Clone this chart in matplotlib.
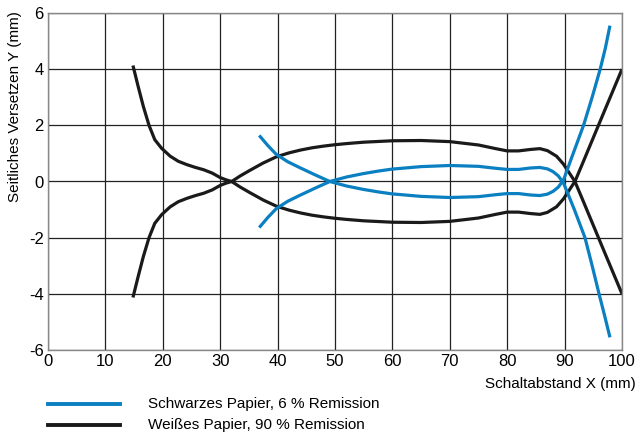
import matplotlib
matplotlib.use("Agg")
import matplotlib.pyplot as plt

plt.rcParams['font.family'] = ['Liberation Sans', 'DejaVu Sans']

# Weißes Papier, 90 % Remission (black) – two symmetric curves
black1_x = [14.8, 15.7, 16.6, 17.6, 18.6, 19.8, 21.3, 22.7, 24.2, 25.7, 27.1, 28.6, 30, 31, 32, 33.5, 35.2, 37.5, 39.8,
            42, 44, 46, 48, 50, 52, 55, 60, 65, 70, 75, 78, 80, 82, 84, 85.7, 87, 88.6, 89.8, 90.8, 91.8,
            93, 95, 97, 98.5, 100]
black1_y = [4.13, 3.39, 2.68, 2.0, 1.49, 1.18, 0.9, 0.72, 0.6, 0.5, 0.42, 0.3, 0.14, 0.06, 0.0, -0.2, -0.4, -0.66, -0.88,
            -1.02, -1.12, -1.2, -1.26, -1.31, -1.35, -1.4, -1.45, -1.46, -1.42, -1.3, -1.17, -1.09, -1.09, -1.14, -1.17, -1.1, -0.9, -0.62, -0.31, 0.0,
            0.58, 1.56, 2.54, 3.27, 4.0]
black2_x = [14.8, 15.7, 16.6, 17.6, 18.6, 19.8, 21.3, 22.7, 24.2, 25.7, 27.1, 28.6, 30, 31, 32, 33.5, 35.2, 37.5, 39.8,
            42, 44, 46, 48, 50, 52, 55, 60, 65, 70, 75, 78, 80, 82, 84, 85.7, 87, 88.6, 89.8, 90.8, 91.8,
            93, 95, 97, 98.5, 100]
black2_y = [-4.13, -3.39, -2.68, -2.0, -1.49, -1.18, -0.9, -0.72, -0.6, -0.5, -0.42, -0.3, -0.14, -0.06, 0.0, 0.2, 0.4, 0.66, 0.88,
            1.02, 1.12, 1.2, 1.26, 1.31, 1.35, 1.4, 1.45, 1.46, 1.42, 1.3, 1.17, 1.09, 1.09, 1.14, 1.17, 1.1, 0.9, 0.62, 0.31, 0.0,
            -0.58, -1.56, -2.54, -3.27, -4.0]

# Schwarzes Papier, 6 % Remission (blue) – two symmetric curves
blue1_x = [36.8, 38.3, 39.8, 41.8, 43.9, 46.5, 49.1, 52, 54.9, 57.5, 59.9, 65, 70, 75, 78, 80, 82, 84, 85.7, 87, 88, 88.9, 89.8,
           91.5, 93.3, 94.8, 96.2, 97.1, 97.9]
blue1_y = [1.64, 1.28, 0.96, 0.7, 0.49, 0.24, 0.0, -0.16, -0.28, -0.37, -0.44, -0.53, -0.57, -0.54, -0.47, -0.43, -0.43, -0.48, -0.5, -0.45, -0.35, -0.2, 0.05,
           1.0, 2.0, 3.0, 4.0, 4.75, 5.55]
blue2_x = [36.8, 38.3, 39.8, 41.8, 43.9, 46.5, 49.1, 52, 54.9, 57.5, 59.9, 65, 70, 75, 78, 80, 82, 84, 85.7, 87, 88, 88.9, 89.8,
           91.7, 93.55, 94.8, 96.0, 97.0, 97.9]
blue2_y = [-1.64, -1.28, -0.96, -0.7, -0.49, -0.24, 0.0, 0.16, 0.28, 0.37, 0.44, 0.53, 0.57, 0.54, 0.47, 0.43, 0.43, 0.48, 0.5, 0.45, 0.35, 0.2, -0.05,
           -1.0, -2.0, -3.0, -4.0, -4.8, -5.55]

x_ticks = [0, 10, 20, 30, 40, 50, 60, 70, 80, 90, 100]
y_ticks = [-6, -4, -2, 0, 2, 4, 6]

BLUE = '#0a7fc1'
BLACK = '#1a1a1a'

fig = plt.figure(figsize=(6.41, 4.36), dpi=100)
ax = fig.add_axes([48/641, 86/436, 574/641, 337/436])

for xs, ys in [(blue1_x, blue1_y), (blue2_x, blue2_y)]:
    ax.plot(xs, ys, color=BLUE, lw=2.3, solid_capstyle='butt', solid_joinstyle='round', zorder=3)
for xs, ys in [(black1_x, black1_y), (black2_x, black2_y)]:
    ax.plot(xs, ys, color=BLACK, lw=2.3, solid_capstyle='butt', solid_joinstyle='round', zorder=2)

ax.set_xlim(0, 100)
ax.set_ylim(-6, 6)
ax.set_xticks(x_ticks)
ax.set_yticks(y_ticks)
ax.set_xticklabels([str(v) for v in x_ticks], fontsize=12)
ax.set_yticklabels([str(v) for v in y_ticks], fontsize=12)
ax.tick_params(length=0, pad=3)
ax.grid(True, color='#222222', lw=0.9)
for s in ax.spines.values():
    s.set_color('#888888')
    s.set_linewidth(1.0)

fig.text(636/641, 1 - 384/436, 'Schaltabstand X (mm)', ha='right', va='center', fontsize=11)
fig.text(15/641, 1 - 107/436, 'Seitliches Versetzen Y (mm)', ha='center', va='center',
         rotation=90, fontsize=11)

# legend
ax_leg = fig.add_axes([0, 0, 1, 1], facecolor='none')
ax_leg.set_xlim(0, 641)
ax_leg.set_ylim(436, 0)
ax_leg.axis('off')
ax_leg.plot([48, 120], [404, 404], color=BLUE, lw=2.8)
ax_leg.plot([48, 120], [425, 425], color=BLACK, lw=2.8)
ax_leg.text(148, 404, 'Schwarzes Papier, 6 % Remission', fontsize=11, va='center')
ax_leg.text(148, 425, 'Weißes Papier, 90 % Remission', fontsize=11, va='center')

fig.savefig('out.png', dpi=100)
